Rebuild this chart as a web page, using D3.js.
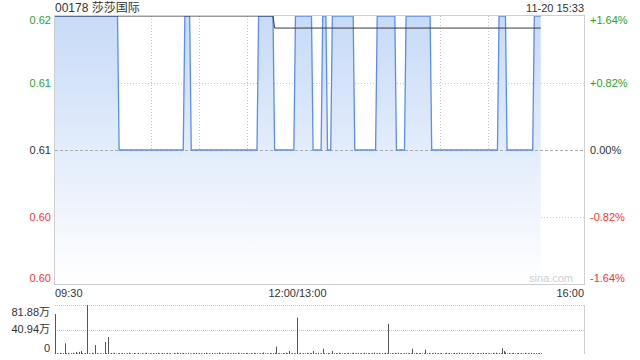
<!DOCTYPE html>
<html>
<head>
<meta charset="utf-8">
<script src="https://cdn.jsdelivr.net/npm/d3@7"></script>
<style>
  html, body { margin: 0; padding: 0; background: #fff; }
  svg { display: block; font-family: "Liberation Sans", Arial, "Noto Sans CJK SC", sans-serif; }
</style>
</head>
<body>
<svg id="chart" width="640" height="360"></svg>
<script>
// header
const stockTitle = '00178 莎莎国际';
const stampText = '11-20 15:33';
const prevClose = 0.61;

// price: change points (last minute at old price, first minute at new price)
const priceTimes = ['09:30', '10:09', '10:10', '10:50', '10:51', '10:54', '10:55', '11:36', '11:37', '11:46',
  '11:47', '11:59', '13:00', '13:10', '13:11', '13:16', '13:17', '13:19', '13:20', '13:22',
  '13:23', '13:36', '13:37', '13:50', '13:51', '14:02', '14:03', '14:08', '14:09', '14:24',
  '14:25', '15:06', '15:07', '15:11', '15:12', '15:28', '15:29', '15:33'];
const priceValues = [0.62, 0.62, 0.61, 0.61, 0.62, 0.62, 0.61, 0.61, 0.62, 0.62,
  0.61, 0.61, 0.62, 0.62, 0.61, 0.61, 0.62, 0.62, 0.61, 0.61,
  0.62, 0.62, 0.61, 0.61, 0.62, 0.62, 0.61, 0.61, 0.62, 0.62,
  0.61, 0.61, 0.62, 0.62, 0.61, 0.61, 0.62, 0.62];

// average price line
const avgTimes = ['09:30', '11:46', '11:47', '15:33'];
const avgValues = [0.62, 0.62, 0.6191, 0.6191];

// volume per minute from 09:30 (万股)
const volumes = [
  66.8, 1.5, 0.8, 2.1, 1.0, 1.6, 17.9, 1.2, 2.0, 0.7, 1.4, 1.8, 0.9, 3.2, 1.1, 3.5, 5.0, 1.3, 0.8, 1.7, 81.88, 1.2, 0.6, 2.2, 1.0, 15.0, 1.5, 0.9, 1.3, 0.7,
  1.1, 20.0, 1.4, 28.4, 0.8, 1.6, 1.0, 2.0, 0.7, 1.3, 1.5, 0.9, 1.8, 1.1, 0.6, 1.4, 2.1, 1.0, 0.8, 1.6, 1.2, 0.7, 1.9, 1.0, 1.4, 0.8, 1.2, 2.2, 0.9, 1.3,
  1.0, 1.6, 0.8, 1.4, 2.0, 1.1, 0.7, 1.5, 1.2, 0.9, 1.8, 1.0, 1.3, 0.6, 1.7, 1.1, 2.3, 0.9, 1.4, 1.0, 1.6, 0.8, 1.2, 1.9, 1.0, 0.7, 1.5, 1.3, 2.0, 0.9,
  1.4, 1.1, 0.8, 1.6, 2.1, 1.0, 1.3, 0.7, 1.8, 1.2, 0.9, 1.5, 2.6, 1.0, 1.4, 0.8, 1.7, 1.2, 2.0, 1.1, 0.9, 1.6, 1.3, 0.7, 2.2, 1.0, 1.5, 1.2, 0.8, 1.9,
  1.3, 1.0, 1.7, 0.9, 2.0, 1.4, 1.1, 0.8, 1.6, 1.2, 2.4, 1.0, 1.3, 0.7, 1.8, 1.1, 1.5, 2.0, 12.2, 1.0, 1.4, 0.9, 1.6, 1.2, 2.1, 1.3, 5.0, 0.8, 1.5, 1.1,
  1.2, 60.7, 1.0, 2.0, 0.6, 1.4, 1.1, 1.7, 0.9, 1.3, 1.6, 5.0, 1.0, 1.4, 2.0, 0.8, 1.2, 8.9, 1.5, 1.0, 1.8, 1.1, 0.7, 5.0, 1.3, 1.6, 0.9, 2.1, 1.2, 1.0,
  1.5, 0.8, 1.3, 1.9, 1.0, 1.4, 2.2, 0.9, 1.2, 1.7, 1.0, 1.5, 0.8, 2.0, 1.3, 1.1, 1.6, 0.9, 1.4, 2.3, 1.0, 1.2, 1.8, 0.7, 1.5, 1.1, 2.0, 1.3, 50.6, 1.0,
  1.4, 0.9, 1.7, 1.2, 2.1, 1.0, 1.5, 0.8, 1.3, 1.9, 1.1, 1.6, 1.0, 8.9, 1.2, 2.0, 0.9, 1.4, 1.7, 1.1, 1.3, 7.2, 1.0, 1.8, 0.8, 1.5, 1.2, 2.2, 1.0, 1.4,
  1.1, 1.7, 0.9, 1.3, 2.0, 1.0, 1.5, 1.2, 0.8, 1.8, 1.4, 1.0, 2.3, 1.1, 1.6, 0.9, 1.3, 1.9, 1.0, 1.5, 1.2, 2.1, 0.8, 1.4, 1.7, 1.0, 1.3, 2.0, 1.1, 1.6,
  1.0, 1.4, 0.9, 1.8, 1.2, 2.2, 1.0, 1.5, 1.3, 9.5, 5.0, 2.8, 1.1, 1.6, 0.9, 1.4, 2.0, 1.0, 1.3, 1.7, 0.8, 1.5, 1.2, 1.9, 1.0, 1.4, 1.1, 2.1, 0.9, 1.3, 1.6, 1.0, 1.4, 1.2
];

// ticks
const priceTicks = [0.60, 0.605, 0.61, 0.615, 0.62];
const pctLabels = ['-1.64%', '-0.82%', '0.00%', '+0.82%', '+1.64%'];
const timeTicks = ['10:00', '10:30', '11:00', '11:30', '13:00', '13:30', '14:00', '14:30', '15:00', '15:30'];
const timeLabels = ['09:30', '12:00/13:00', '16:00'];
const volTicks = [0, 40.94, 81.88];
const volLabels = ['0', '40.94万', '81.88万'];

const GREEN = '#1fa61f', RED = '#f2372f', TEXT = '#333';

// session minute index: 09:30 -> 0, 12:00/13:00 -> 150, 16:00 -> 330
function slot(t) {
  const [h, m] = t.split(':').map(Number);
  const mins = h * 60 + m;
  return mins >= 13 * 60 ? 150 + mins - 13 * 60 : mins - (9 * 60 + 30);
}

const svg = d3.select('#chart');
const plotL = 55, plotR = 584, plotT = 16, plotB = 284;
const volTop = 305, volBottom = 354;

const x = d3.scaleLinear().domain([0, 330]).range([plotL, plotR]);
const y = d3.scaleLinear().domain([prevClose - 0.01, prevClose + 0.01]).range([plotB, plotT]);
const yv = d3.scaleLinear().domain([0, 81.88]).range([volBottom, volTop]);

const priceData = priceTimes.map((t, i) => ({ s: slot(t), v: priceValues[i] }));
const avgData = avgTimes.map((t, i) => ({ s: slot(t), v: avgValues[i] }));

// gradient for the area
const grad = svg.append('defs').append('linearGradient')
  .attr('id', 'fillGrad').attr('gradientUnits', 'userSpaceOnUse')
  .attr('x1', 0).attr('x2', 0).attr('y1', plotT).attr('y2', plotB);
grad.append('stop').attr('offset', '0%').attr('stop-color', '#c7daf7');
grad.append('stop').attr('offset', '100%').attr('stop-color', '#ffffff');

// grid
const grid = svg.append('g');
grid.selectAll('line.v').data(timeTicks).enter().append('line')
  .attr('x1', d => Math.round(x(slot(d))) + 0.5).attr('x2', d => Math.round(x(slot(d))) + 0.5)
  .attr('y1', plotT).attr('y2', plotB)
  .attr('stroke', '#c8c8c8').attr('stroke-dasharray', '1,2');
grid.selectAll('line.h').data(priceTicks.filter(d => d !== prevClose && d > 0.6 && d < 0.62)).enter().append('line')
  .attr('x1', plotL).attr('x2', plotR)
  .attr('y1', d => Math.round(y(d)) + 0.5).attr('y2', d => Math.round(y(d)) + 0.5)
  .attr('stroke', '#c8c8c8').attr('stroke-dasharray', '1,2');

// area + price line
svg.append('path').datum(priceData)
  .attr('fill', 'url(#fillGrad)')
  .attr('d', d3.area().x(d => x(d.s)).y0(plotB).y1(d => y(d.v)));

// prev close line
svg.append('line')
  .attr('x1', plotL).attr('x2', plotR)
  .attr('y1', Math.round(y(prevClose)) + 0.5).attr('y2', Math.round(y(prevClose)) + 0.5)
  .attr('stroke', '#aaa').attr('stroke-dasharray', '3,2');

svg.append('path').datum(priceData)
  .attr('fill', 'none').attr('stroke', '#5b8fe9').attr('stroke-width', 1.3)
  .attr('d', d3.line().x(d => x(d.s)).y(d => y(d.v)));

svg.append('path').datum(avgData)
  .attr('fill', 'none').attr('stroke', '#3a3a3a').attr('stroke-width', 1)
  .attr('d', d3.line().x(d => x(d.s)).y(d => y(d.v)));

// frame
svg.append('rect')
  .attr('x', plotL - 0.5).attr('y', plotT - 0.5).attr('width', plotR - plotL + 1).attr('height', plotB - plotT + 1)
  .attr('fill', 'none').attr('stroke', '#cfcfcf');

// watermark
svg.append('text').attr('x', 573).attr('y', 282).attr('text-anchor', 'end')
  .attr('font-size', 11).attr('fill', '#cfcfcf').text('sina.com');

// price labels
const lblY = (d, i) => i === 0 ? y(d) - 6 : i === priceTicks.length - 1 ? y(d) + 4 : y(d);
const lblColor = d => d > prevClose + 1e-9 ? GREEN : d < prevClose - 1e-9 ? RED : TEXT;
svg.selectAll('text.pl').data(priceTicks).enter().append('text')
  .attr('x', 51).attr('y', lblY).attr('dy', '0.35em').attr('text-anchor', 'end')
  .attr('font-size', 11).attr('fill', lblColor)
  .text(d => d3.format('.2f')(d));
svg.selectAll('text.pr').data(priceTicks).enter().append('text')
  .attr('x', 590).attr('y', lblY).attr('dy', '0.35em')
  .attr('font-size', 11).attr('fill', lblColor)
  .text((d, i) => pctLabels[i]);

// header texts
svg.append('text').attr('x', 55).attr('y', 12).attr('font-size', 12).attr('fill', TEXT).text(stockTitle);
svg.append('text').attr('x', 584).attr('y', 12).attr('text-anchor', 'end').attr('font-size', 11).attr('fill', TEXT).text(stampText);

// time labels
svg.append('text').attr('x', plotL).attr('y', 297).attr('font-size', 11).attr('fill', TEXT).text(timeLabels[0]);
svg.append('text').attr('x', x(150) + 2).attr('y', 297).attr('text-anchor', 'middle').attr('font-size', 11).attr('fill', TEXT).text(timeLabels[1]);
svg.append('text').attr('x', plotR).attr('y', 297).attr('text-anchor', 'end').attr('font-size', 11).attr('fill', TEXT).text(timeLabels[2]);

// volume panel
svg.selectAll('line.vg').data(volTicks.slice(1)).enter().append('line')
  .attr('x1', plotL).attr('x2', plotR)
  .attr('y1', d => Math.round(yv(d)) + 0.5).attr('y2', d => Math.round(yv(d)) + 0.5)
  .attr('stroke', '#c8c8c8').attr('stroke-dasharray', '1,1');
svg.append('line').attr('x1', plotR + 0.5).attr('x2', plotR + 0.5).attr('y1', volTop).attr('y2', volBottom)
  .attr('stroke', '#cfcfcf');

svg.append('g').selectAll('line').data(volumes).enter().append('line')
  .attr('x1', (d, i) => Math.round(x(i)) + 0.5).attr('x2', (d, i) => Math.round(x(i)) + 0.5)
  .attr('y1', yv(0)).attr('y2', d => yv(d))
  .attr('stroke', '#555').attr('stroke-width', 1);

svg.selectAll('text.vl').data(volTicks).enter().append('text')
  .attr('x', 50).attr('y', (d, i) => i === 0 ? yv(d) - 6 : i === volTicks.length - 1 ? yv(d) + 7 : yv(d))
  .attr('dy', '0.35em').attr('text-anchor', 'end')
  .attr('font-size', 11).attr('fill', TEXT)
  .text((d, i) => volLabels[i]);
</script>
</body>
</html>
